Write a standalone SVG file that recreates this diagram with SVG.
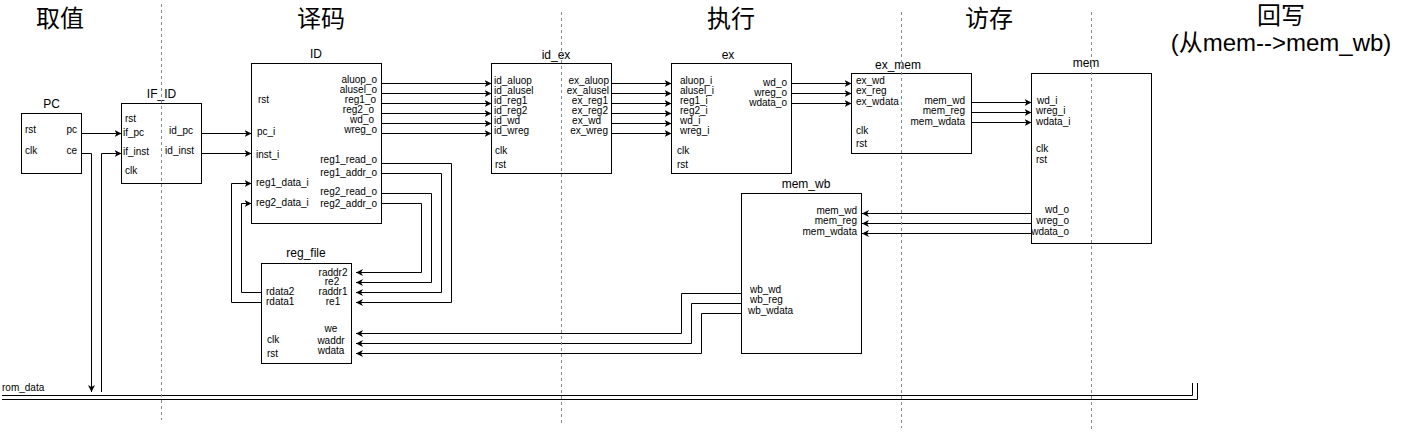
<svg xmlns="http://www.w3.org/2000/svg" width="1402" height="435" viewBox="0 0 1402 435">
<style>
.box{fill:#fff;stroke:#000;stroke-width:1}
.t{font-family:"Liberation Sans",Arial,sans-serif;font-size:10px;fill:#000}
.ti{font-family:"Liberation Sans",Arial,sans-serif;font-size:12px;fill:#000;text-anchor:middle}
.r{text-anchor:end}
.m{text-anchor:middle}
.hdr{font-family:"Liberation Sans","Noto Sans CJK SC",sans-serif;font-size:24px;fill:#000;text-anchor:middle}
.w{fill:none;stroke:#000;stroke-width:1}
.a{marker-end:url(#arr)}
.dash{stroke:#7a8da6;stroke-width:1;stroke-dasharray:3 3;fill:none}
</style>
<defs>
<marker id="arr" markerWidth="8" markerHeight="8" refX="7" refY="4" orient="auto" markerUnits="userSpaceOnUse">
<path d="M0,0.5 L7,4 L0,7.5 L2,4 Z" fill="#000"/>
</marker>
</defs>
<rect width="1402" height="435" fill="#fff"/>

<g id="headers">
<text class="hdr" x="60" y="27">取值</text>
<text class="hdr" x="321" y="27">译码</text>
<text class="hdr" x="731" y="27">执行</text>
<text class="hdr" x="989" y="27">访存</text>
<text class="hdr" x="1281" y="24">回写</text>
<text class="hdr" x="1281" y="51">(从mem--&gt;mem_wb)</text>
</g>

<g id="connectors">
<path class="w a" d="M82,133.5 H121.5"/>
<path class="w a" d="M82,153.5 H91.5 V392"/>
<path class="w a" d="M101.5,392 V153.5 H121.5"/>
<path class="w a" d="M202,133.5 H251.5"/>
<path class="w a" d="M202,153.5 H251.5"/>
<path class="w a" d="M382,83.5 H491.5"/>
<path class="w a" d="M382,93.5 H491.5"/>
<path class="w a" d="M382,103.5 H491.5"/>
<path class="w a" d="M382,113.5 H491.5"/>
<path class="w a" d="M382,123.5 H491.5"/>
<path class="w a" d="M382,133.5 H491.5"/>
<path class="w a" d="M612,83.5 H671.5"/>
<path class="w a" d="M612,93.5 H671.5"/>
<path class="w a" d="M612,103.5 H671.5"/>
<path class="w a" d="M612,113.5 H671.5"/>
<path class="w a" d="M612,123.5 H671.5"/>
<path class="w a" d="M612,133.5 H671.5"/>
<path class="w a" d="M792,83.5 H851.5"/>
<path class="w a" d="M792,93.5 H851.5"/>
<path class="w a" d="M792,103.5 H851.5"/>
<path class="w a" d="M972,102.5 H1031.5"/>
<path class="w a" d="M972,112.5 H1031.5"/>
<path class="w a" d="M972,122.5 H1031.5"/>
<path class="w a" d="M1031,213.5 H862"/>
<path class="w a" d="M1031,223.5 H862"/>
<path class="w a" d="M1031,233.5 H862"/>
<path class="w a" d="M382,163.5 H451.5 V302.5 H356"/>
<path class="w a" d="M382,173.5 H441.5 V292.5 H356"/>
<path class="w a" d="M382,193.5 H431.5 V282.5 H356"/>
<path class="w a" d="M382,203.5 H421.5 V272.5 H356"/>
<path class="w a" d="M261,292.5 H241.5 V203.5 H251.5"/>
<path class="w a" d="M261,302.5 H231.5 V183.5 H251.5"/>
<path class="w a" d="M741,293.5 H681.5 V333.5 H356"/>
<path class="w a" d="M741,303.5 H691.5 V343.5 H356"/>
<path class="w a" d="M741,313.5 H701.5 V353.5 H356"/>
<path class="w" d="M2,395.5 H1192.5 V383"/>
<path class="w" d="M2,399.5 H1197.5 V383"/>
</g>

<g id="rom_data">
<text class="t" x="2" y="391">rom_data</text>
</g>

<g id="PC">
<rect class="box" x="21.5" y="113.5" width="60" height="60"/>
<text class="ti" x="51.5" y="108">PC</text>
<text class="t" x="25" y="133">rst</text>
<text class="t" x="25" y="154">clk</text>
<text class="t r" x="77" y="133">pc</text>
<text class="t r" x="77" y="154">ce</text>
</g>

<g id="IF_ID">
<rect class="box" x="121.5" y="103.5" width="80" height="80"/>
<text class="ti" x="161.5" y="98">IF_ID</text>
<text class="t" x="125" y="122">rst</text>
<text class="t" x="123" y="136">if_pc</text>
<text class="t" x="123" y="155">if_inst</text>
<text class="t" x="125" y="174">clk</text>
<text class="t r" x="193" y="134">id_pc</text>
<text class="t r" x="194" y="154">id_inst</text>
</g>

<g id="ID">
<rect class="box" x="251.5" y="63.5" width="130" height="160"/>
<text class="ti" x="316" y="58">ID</text>
<text class="t" x="258" y="103">rst</text>
<text class="t" x="257" y="135">pc_i</text>
<text class="t" x="256" y="158">inst_i</text>
<text class="t" x="256" y="186">reg1_data_i</text>
<text class="t" x="256" y="206">reg2_data_i</text>
<text class="t r" x="377" y="83">aluop_o</text>
<text class="t r" x="377" y="93">alusel_o</text>
<text class="t r" x="376" y="103">reg1_o</text>
<text class="t r" x="374" y="113">reg2_o</text>
<text class="t r" x="374" y="123">wd_o</text>
<text class="t r" x="377" y="133">wreg_o</text>
<text class="t r" x="377" y="163">reg1_read_o</text>
<text class="t r" x="377" y="176">reg1_addr_o</text>
<text class="t r" x="377" y="195">reg2_read_o</text>
<text class="t r" x="377" y="207">reg2_addr_o</text>
</g>

<g id="reg_file">
<rect class="box" x="261.5" y="263.5" width="90" height="100"/>
<text class="ti" x="306" y="257">reg_file</text>
<text class="t m" x="333" y="276">raddr2</text>
<text class="t m" x="332" y="285">re2</text>
<text class="t m" x="333" y="295">raddr1</text>
<text class="t m" x="333" y="305">re1</text>
<text class="t" x="266" y="295">rdata2</text>
<text class="t" x="266" y="305">rdata1</text>
<text class="t" x="267" y="343">clk</text>
<text class="t" x="267" y="357">rst</text>
<text class="t m" x="331" y="332">we</text>
<text class="t m" x="331" y="344">waddr</text>
<text class="t m" x="331" y="354">wdata</text>
</g>

<g id="id_ex">
<rect class="box" x="491.5" y="63.5" width="120" height="110"/>
<text class="ti" x="556" y="59">id_ex</text>
<text class="t" x="494" y="84">id_aluop</text>
<text class="t" x="494" y="94">id_alusel</text>
<text class="t" x="494" y="104">id_reg1</text>
<text class="t" x="494" y="114">id_reg2</text>
<text class="t" x="494" y="124">id_wd</text>
<text class="t" x="494" y="134">id_wreg</text>
<text class="t" x="495" y="154">clk</text>
<text class="t" x="495" y="168">rst</text>
<text class="t r" x="609" y="84">ex_aluop</text>
<text class="t r" x="609" y="94">ex_alusel</text>
<text class="t r" x="608" y="104">ex_reg1</text>
<text class="t r" x="608" y="114">ex_reg2</text>
<text class="t r" x="601" y="124">ex_wd</text>
<text class="t r" x="608" y="134">ex_wreg</text>
</g>

<g id="ex">
<rect class="box" x="671.5" y="63.5" width="120" height="110"/>
<text class="ti" x="728" y="59">ex</text>
<text class="t" x="680" y="84">aluop_i</text>
<text class="t" x="680" y="94">alusel_i</text>
<text class="t" x="680" y="104">reg1_i</text>
<text class="t" x="680" y="114">reg2_i</text>
<text class="t" x="680" y="124">wd_i</text>
<text class="t" x="680" y="134">wreg_i</text>
<text class="t" x="677" y="154">clk</text>
<text class="t" x="677" y="168">rst</text>
<text class="t r" x="787" y="86">wd_o</text>
<text class="t r" x="787" y="96">wreg_o</text>
<text class="t r" x="787" y="106">wdata_o</text>
</g>

<g id="ex_mem">
<rect class="box" x="851.5" y="73.5" width="120" height="80"/>
<text class="ti" x="898" y="69">ex_mem</text>
<text class="t" x="856" y="84">ex_wd</text>
<text class="t" x="856" y="94">ex_reg</text>
<text class="t" x="856" y="105">ex_wdata</text>
<text class="t" x="856" y="134">clk</text>
<text class="t" x="856" y="147">rst</text>
<text class="t r" x="965" y="104">mem_wd</text>
<text class="t r" x="965" y="114">mem_reg</text>
<text class="t r" x="965" y="125">mem_wdata</text>
</g>

<g id="mem">
<rect class="box" x="1031.5" y="73.5" width="120" height="170"/>
<text class="ti" x="1086" y="67">mem</text>
<text class="t" x="1037" y="104">wd_i</text>
<text class="t" x="1036" y="114">wreg_i</text>
<text class="t" x="1036" y="125">wdata_i</text>
<text class="t" x="1036" y="152">clk</text>
<text class="t" x="1036" y="163">rst</text>
<text class="t r" x="1069" y="213">wd_o</text>
<text class="t r" x="1069" y="224">wreg_o</text>
<text class="t r" x="1069" y="235">wdata_o</text>
</g>

<g id="mem_wb">
<rect class="box" x="741.5" y="193.5" width="120" height="160"/>
<text class="ti" x="806" y="188">mem_wb</text>
<text class="t r" x="857" y="214">mem_wd</text>
<text class="t r" x="857" y="224">mem_reg</text>
<text class="t r" x="857" y="235">mem_wdata</text>
<text class="t" x="750" y="293">wb_wd</text>
<text class="t" x="750" y="303">wb_reg</text>
<text class="t" x="748" y="314">wb_wdata</text>
</g>

<g id="stage_dividers">
<path class="dash" d="M161.5,4 V420"/>
<path class="dash" d="M561.5,12 V425"/>
<path class="dash" d="M901.5,12 V428"/>
<path class="dash" d="M1091.5,12 V430"/>
</g>
</svg>
